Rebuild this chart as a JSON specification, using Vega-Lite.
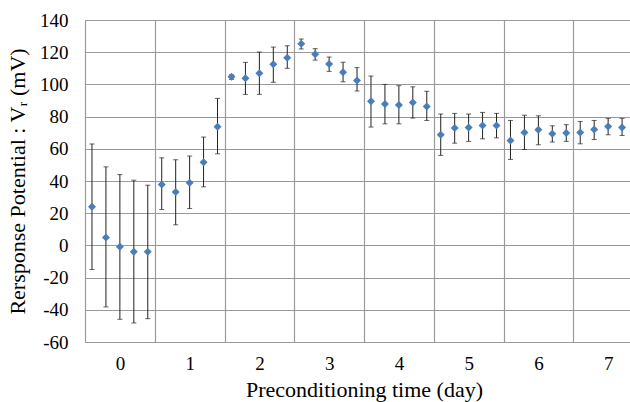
{
  "$schema": "https://vega.github.io/schema/vega-lite/v6.json",
  "autosize": {"type": "none"},
  "padding": {"left": 85, "top": 20, "right": 0, "bottom": 60},
  "width": 558,
  "height": 322,
  "background": "white",
  "config": {
    "view": {"stroke": "#9a9a9a", "strokeWidth": 1},
    "font": "Liberation Serif",
    "axisY": {
      "titleFont": "Liberation Serif",
      "titleFontSize": 22,
      "titleFontWeight": "normal",
      "titleColor": "black",
      "titlePadding": 10,
      "labelFont": "Liberation Serif",
      "labelFontSize": 19,
      "labelColor": "black",
      "labelPadding": 17,
      "labelOverlap": false,
      "ticks": false,
      "tickSize": 0,
      "domain": false,
      "grid": true,
      "gridColor": "#9a9a9a",
      "gridWidth": 1.2
    }
  },
  "data": {
    "values": [
      {"day": 0, "slot": 0, "v": 24, "lo": -15, "hi": 63},
      {"day": 0, "slot": 1, "v": 4.9, "lo": -38.2, "hi": 48.8},
      {"day": 0, "slot": 2, "v": -0.9, "lo": -45.9, "hi": 44},
      {"day": 0, "slot": 3, "v": -4, "lo": -48.2, "hi": 40.5},
      {"day": 0, "slot": 4, "v": -4, "lo": -45.5, "hi": 37.4},
      {"day": 1, "slot": 0, "v": 37.8, "lo": 22.3, "hi": 54.4},
      {"day": 1, "slot": 1, "v": 33.1, "lo": 12.8, "hi": 53.2},
      {"day": 1, "slot": 2, "v": 38.9, "lo": 22.9, "hi": 55.5},
      {"day": 1, "slot": 3, "v": 51.7, "lo": 36.4, "hi": 67.3},
      {"day": 1, "slot": 4, "v": 73.7, "lo": 56.9, "hi": 91.3},
      {"day": 2, "slot": 0, "v": 104.8, "lo": 103.1, "hi": 106},
      {"day": 2, "slot": 1, "v": 103.8, "lo": 93.8, "hi": 113.7},
      {"day": 2, "slot": 2, "v": 106.9, "lo": 93.8, "hi": 120.1},
      {"day": 2, "slot": 3, "v": 112.5, "lo": 101.3, "hi": 123.2},
      {"day": 2, "slot": 4, "v": 116.6, "lo": 110, "hi": 124},
      {"day": 3, "slot": 0, "v": 125.3, "lo": 122, "hi": 128.2},
      {"day": 3, "slot": 1, "v": 118.8, "lo": 115.1, "hi": 122.2},
      {"day": 3, "slot": 2, "v": 112.7, "lo": 108.1, "hi": 117},
      {"day": 3, "slot": 3, "v": 107.5, "lo": 101.6, "hi": 113.7},
      {"day": 3, "slot": 4, "v": 102.5, "lo": 95.9, "hi": 110.4},
      {"day": 4, "slot": 0, "v": 89.5, "lo": 73.5, "hi": 105.2},
      {"day": 4, "slot": 1, "v": 87.8, "lo": 75.5, "hi": 100},
      {"day": 4, "slot": 2, "v": 87.2, "lo": 75.5, "hi": 99.2},
      {"day": 4, "slot": 3, "v": 88.8, "lo": 79.1, "hi": 98.5},
      {"day": 4, "slot": 4, "v": 86.3, "lo": 77.6, "hi": 95.7},
      {"day": 5, "slot": 0, "v": 68.7, "lo": 55.9, "hi": 81.6},
      {"day": 5, "slot": 1, "v": 72.9, "lo": 63.5, "hi": 82},
      {"day": 5, "slot": 2, "v": 73.3, "lo": 64.6, "hi": 81.6},
      {"day": 5, "slot": 3, "v": 74.5, "lo": 66.2, "hi": 82.6},
      {"day": 5, "slot": 4, "v": 74.5, "lo": 66.8, "hi": 82},
      {"day": 6, "slot": 0, "v": 65.2, "lo": 53.4, "hi": 77.6},
      {"day": 6, "slot": 1, "v": 70.2, "lo": 59.6, "hi": 80.9},
      {"day": 6, "slot": 2, "v": 71.8, "lo": 62.5, "hi": 80.5},
      {"day": 6, "slot": 3, "v": 69.3, "lo": 64.2, "hi": 74.3},
      {"day": 6, "slot": 4, "v": 69.8, "lo": 64.6, "hi": 75},
      {"day": 7, "slot": 0, "v": 70.2, "lo": 63.1, "hi": 77},
      {"day": 7, "slot": 1, "v": 72, "lo": 65.8, "hi": 77.6},
      {"day": 7, "slot": 2, "v": 73.9, "lo": 68.7, "hi": 78.9},
      {"day": 7, "slot": 3, "v": 73.3, "lo": 68.3, "hi": 78.9}
    ]
  },
  "encoding": {
    "x": {
      "field": "day",
      "type": "ordinal",
      "scale": {"domain": [0, 1, 2, 3, 4, 5, 6, 7], "paddingInner": 0, "paddingOuter": 0},
      "axis": {
        "title": "Preconditioning time (day)",
        "titleFont": "Liberation Serif",
        "titleFontSize": 22,
        "titleFontWeight": "normal",
        "titleColor": "black",
        "titlePadding": 6,
        "labelFont": "Liberation Serif",
        "labelFontSize": 19,
        "labelColor": "black",
        "labelAngle": 0,
        "labelPadding": 12,
        "ticks": false,
        "tickSize": 0,
        "tickBand": "extent",
        "domain": false,
        "grid": true,
        "gridColor": "#9a9a9a",
        "gridWidth": 1.2
      }
    },
    "xOffset": {
      "field": "slot",
      "type": "ordinal",
      "scale": {"domain": [0, 1, 2, 3, 4], "paddingInner": 0, "paddingOuter": 0}
    }
  },
  "layer": [
    {
      "mark": {"type": "rule", "color": "#222222", "strokeWidth": 1},
      "encoding": {
        "y": {
          "field": "lo",
          "type": "quantitative",
          "scale": {"domain": [-60, 140], "nice": false, "zero": false},
          "axis": {
            "title": "Rersponse Potential : Vᵣ (mV)",
            "labelExpr": "'' + datum.value",
            "values": [-60, -40, -20, 0, 20, 40, 60, 80, 100, 120, 140]
          }
        },
        "y2": {"field": "hi"}
      }
    },
    {
      "mark": {"type": "tick", "color": "#222222", "thickness": 1, "size": 5, "orient": "horizontal"},
      "encoding": {"y": {"field": "lo", "type": "quantitative", "axis": {
            "title": "Rersponse Potential : Vᵣ (mV)",
            "labelExpr": "'' + datum.value",
            "values": [-60, -40, -20, 0, 20, 40, 60, 80, 100, 120, 140]
          }}}
    },
    {
      "mark": {"type": "tick", "color": "#222222", "thickness": 1, "size": 5, "orient": "horizontal"},
      "encoding": {"y": {"field": "hi", "type": "quantitative", "axis": {
            "title": "Rersponse Potential : Vᵣ (mV)",
            "labelExpr": "'' + datum.value",
            "values": [-60, -40, -20, 0, 20, 40, 60, 80, 100, 120, 140]
          }}}
    },
    {
      "mark": {"type": "point", "shape": "diamond", "filled": true, "color": "#4a7ebb", "size": 64, "opacity": 1},
      "encoding": {"y": {"field": "v", "type": "quantitative", "axis": {
            "title": "Rersponse Potential : Vᵣ (mV)",
            "labelExpr": "'' + datum.value",
            "values": [-60, -40, -20, 0, 20, 40, 60, 80, 100, 120, 140]
          }}}
    }
  ]
}
